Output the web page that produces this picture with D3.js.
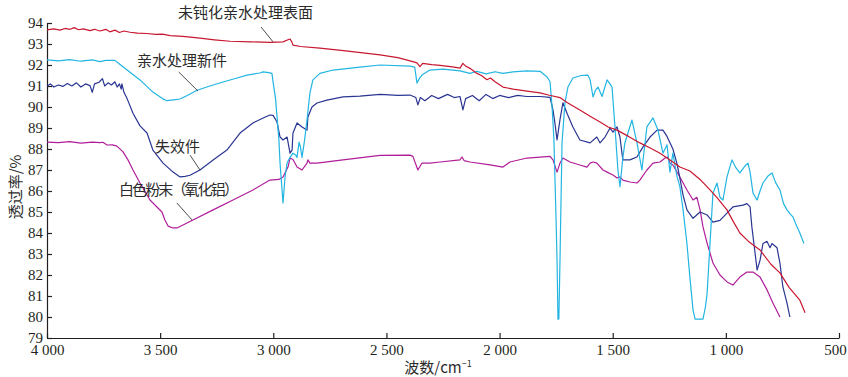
<!DOCTYPE html>
<html>
<head>
<meta charset="utf-8">
<script src="https://cdn.jsdelivr.net/npm/d3@7"></script>
<style>
  body { margin: 0; background: #fff; }
  svg { display: block; }
  .axis text { font-family: "Liberation Serif", "DejaVu Serif", serif; font-size: 15px; fill: #231f20; }
  .axis path, .axis line { stroke: #231f20; stroke-width: 1.2px; }
  .lbl { font-family: "Noto Sans CJK SC", sans-serif; font-size: 15px; fill: #2b2b2b; }
  path.spec { fill: none; stroke-width: 1.2px; stroke-linejoin: round; }
</style>
</head>
<body>
<svg width="848" height="377"></svg>
<script>
// wavenumber (cm-1), transmittance (%)
var untreatedSurface = [[4000,93.67],[3970,93.72],[3943,93.66],[3920,93.74],[3898,93.7],[3880,93.78],[3860,93.68],[3840,93.72],[3810,93.64],[3790,93.7],[3766,93.62],[3740,93.7],[3722,93.58],[3700,93.66],[3680,93.55],[3660,93.62],[3633,93.56],[3600,93.52],[3560,93.5],[3520,93.46],[3490,93.47],[3456,93.4],[3400,93.36],[3324,93.28],[3260,93.2],[3191,93.13],[3100,93.1],[3015,93.08],[2957,93.1],[2935,93.2],[2926,93.24],[2918,93.1],[2913,92.95],[2880,92.88],[2794,92.8],[2700,92.7],[2661,92.65],[2528,92.48],[2450,92.35],[2383,92.16],[2365,92.1],[2352,91.92],[2340,92.08],[2300,92.02],[2263,91.98],[2200,91.9],[2175,91.85],[2162,92.08],[2150,91.95],[2131,91.84],[2100,91.6],[2080,91.5],[2056,91.3],[2040,91.38],[2020,91.2],[1985,90.95],[1940,90.85],[1879,90.76],[1821,90.67],[1780,90.56],[1733,90.45],[1700,90.2],[1645,89.86],[1600,89.56],[1556,89.29],[1520,89.05],[1481,88.9],[1430,88.6],[1380,88.29],[1330,88.02],[1291,87.8],[1250,87.5],[1203,87.14],[1159,86.95],[1114,86.55],[1070,86.05],[1040,85.7],[995,85.1],[970,84.6],[938,84.0],[900,83.6],[849,83.19],[800,82.5],[761,82.1],[720,81.4],[673,80.8],[650,80.2]];

var newPart = [[4000,92.24],[3950,92.2],[3900,92.26],[3850,92.18],[3800,92.24],[3766,92.16],[3740,92.22],[3700,92.22],[3680,92.05],[3646,91.76],[3589,91.29],[3532,90.71],[3490,90.4],[3470,90.3],[3440,90.34],[3412,90.38],[3380,90.55],[3337,90.8],[3280,91.0],[3222,91.19],[3160,91.38],[3116,91.52],[3060,91.62],[3045,91.67],[3020,91.64],[3006,91.6],[3001,91.2],[2990,90.4],[2984,89.6],[2975,88.4],[2970,87.3],[2963,86.3],[2957,85.43],[2952,86.1],[2948,86.67],[2939,87.33],[2926,87.6],[2913,87.8],[2900,87.7],[2895,87.6],[2886,88.33],[2880,88.1],[2873,87.6],[2862,88.4],[2851,89.38],[2838,90.67],[2825,91.29],[2794,91.6],[2736,91.76],[2617,91.9],[2528,92.0],[2396,91.95],[2375,91.9],[2365,91.14],[2352,91.4],[2343,91.52],[2308,91.76],[2250,91.8],[2175,91.72],[2131,91.6],[2100,91.7],[2060,91.58],[2020,91.68],[1985,91.6],[1941,91.67],[1880,91.72],[1821,91.7],[1790,91.43],[1777,91.2],[1768,90.0],[1760,88.5],[1750,84.5],[1746,82.7],[1742,79.9],[1738,79.9],[1733,82.7],[1724,88.3],[1711,90.2],[1698,90.95],[1676,91.38],[1640,91.5],[1610,91.52],[1600,91.3],[1587,90.48],[1576,90.8],[1565,90.95],[1547,90.5],[1525,91.29],[1512,91.1],[1503,90.95],[1490,89.05],[1477,87.0],[1468,86.2],[1455,87.6],[1446,88.3],[1415,89.38],[1393,88.3],[1371,87.0],[1349,89.05],[1322,89.48],[1300,88.9],[1278,87.8],[1260,88.2],[1247,86.9],[1234,87.8],[1216,86.7],[1203,86.2],[1189,85.1],[1172,83.5],[1159,81.9],[1145,80.33],[1136,79.9],[1101,79.9],[1090,80.5],[1083,81.1],[1070,83.5],[1057,85.9],[1039,86.38],[1026,85.7],[1013,85.57],[995,86.67],[973,87.48],[955,87.1],[938,86.86],[915,87.2],[902,87.33],[893,86.9],[880,85.9],[862,85.57],[849,86.0],[836,86.38],[815,86.7],[796,86.86],[780,86.4],[761,86.05],[745,85.4],[730,85.1],[715,84.9],[703,84.76],[690,84.4],[673,84.0],[655,83.5]];

var failedPart = [[4000,91.0],[3985,91.1],[3970,90.95],[3950,91.05],[3930,90.98],[3910,91.12],[3890,91.0],[3870,91.15],[3850,90.95],[3830,91.1],[3810,91.02],[3800,90.7],[3790,91.1],[3770,91.18],[3755,91.35],[3745,91.0],[3730,91.15],[3715,91.05],[3700,91.2],[3690,90.95],[3680,91.1],[3672,90.85],[3669,91.1],[3660,90.7],[3646,90.4],[3620,89.7],[3589,89.1],[3558,88.76],[3532,87.95],[3487,87.33],[3443,86.9],[3412,86.67],[3390,86.7],[3368,86.75],[3324,87.0],[3266,87.48],[3205,87.95],[3147,88.76],[3090,89.24],[3040,89.5],[3015,89.62],[3001,89.6],[2984,89.3],[2970,88.57],[2957,88.43],[2948,88.5],[2939,88.57],[2926,87.8],[2917,87.95],[2913,88.76],[2895,89.24],[2873,89.05],[2851,88.9],[2847,89.52],[2829,90.0],[2807,90.19],[2763,90.33],[2692,90.48],[2617,90.52],[2528,90.6],[2450,90.55],[2396,90.57],[2370,90.45],[2361,90.1],[2350,90.45],[2330,90.3],[2300,90.55],[2270,90.4],[2230,90.6],[2200,90.45],[2175,90.5],[2162,89.86],[2150,90.4],[2120,90.55],[2090,90.3],[2060,90.6],[2030,90.4],[2000,90.55],[1960,90.45],[1920,90.55],[1880,90.5],[1821,90.5],[1777,90.46],[1764,89.86],[1755,89.2],[1746,88.43],[1733,89.4],[1720,90.2],[1702,89.7],[1676,89.05],[1645,88.43],[1600,88.29],[1570,88.57],[1556,88.29],[1534,88.57],[1512,89.0],[1499,88.8],[1481,89.05],[1468,88.57],[1459,87.8],[1455,87.48],[1424,87.48],[1393,87.62],[1366,88.1],[1335,88.57],[1304,88.9],[1278,88.9],[1260,88.6],[1234,88.0],[1216,87.3],[1203,86.6],[1189,85.8],[1172,85.1],[1145,84.7],[1114,85.0],[1083,84.86],[1057,84.52],[1026,84.6],[995,84.95],[969,85.24],[924,85.33],[907,85.4],[893,85.24],[885,84.29],[871,83.05],[862,82.24],[849,82.7],[836,83.5],[818,83.6],[805,83.3],[796,83.5],[774,83.3],[761,82.57],[748,81.43],[730,80.67],[717,80.0]];

var whitePowder = [[4000,88.33],[3950,88.3],[3900,88.35],[3850,88.28],[3800,88.33],[3766,88.3],[3753,88.32],[3735,88.19],[3710,88.2],[3691,88.14],[3664,87.86],[3642,87.48],[3620,87.0],[3589,86.38],[3545,85.57],[3514,85.24],[3492,85.0],[3479,84.62],[3465,84.33],[3443,84.24],[3426,84.24],[3399,84.38],[3355,84.62],[3266,85.1],[3178,85.57],[3090,86.05],[3015,86.52],[2975,86.55],[2957,86.67],[2935,87.14],[2926,87.57],[2913,87.5],[2895,87.14],[2873,87.0],[2851,87.33],[2847,87.48],[2838,87.33],[2807,87.33],[2692,87.48],[2528,87.7],[2396,87.71],[2383,87.65],[2361,87.0],[2343,87.33],[2308,87.33],[2263,87.38],[2175,87.48],[2166,87.62],[2157,87.45],[2131,87.38],[2042,87.24],[1985,87.14],[1954,87.38],[1879,87.57],[1777,87.65],[1764,87.48],[1746,86.9],[1733,87.33],[1720,87.57],[1689,87.38],[1645,87.24],[1614,87.14],[1600,87.33],[1587,87.38],[1570,87.33],[1543,87.0],[1525,86.9],[1499,86.76],[1481,86.62],[1468,86.67],[1455,86.52],[1424,86.43],[1393,86.38],[1380,86.52],[1349,87.0],[1322,87.33],[1291,87.38],[1269,87.57],[1256,87.62],[1247,87.33],[1234,87.24],[1203,86.67],[1172,86.05],[1145,85.57],[1128,85.7],[1114,85.1],[1101,84.29],[1083,83.52],[1057,82.57],[1026,82.0],[995,81.67],[969,81.52],[938,81.9],[907,82.14],[880,82.14],[849,81.9],[818,81.29],[792,80.67],[761,80.0]];

var xTicks = [4000, 3500, 3000, 2500, 2000, 1500, 1000, 500];
var yTicks = [79, 80, 81, 82, 83, 84, 85, 86, 87, 88, 89, 90, 91, 92, 93, 94];

var seriesNames = ["未钝化亲水处理表面", "亲水处理新件", "失效件", "白色粉末（氧化铝）"];
var seriesColors = ["#c8172f", "#22b5e2", "#2a3592", "#b01d9a"];
var seriesData = [untreatedSurface, newPart, failedPart, whitePowder];

var svg = d3.select("svg");
var x = d3.scaleLinear().domain([4000, 500]).range([47, 839]);
var y = d3.scaleLinear().domain([79, 94]).range([338, 23]);

var fmt = function (d) { return d >= 1000 ? d3.format(",")(d).replace(",", " ") : String(d); };

var xAxis = svg.append("g")
    .attr("class", "axis")
    .attr("transform", "translate(0,338)")
    .call(d3.axisBottom(x).tickValues(xTicks).tickFormat(fmt)
        .tickSizeInner(-5).tickSizeOuter(0).tickPadding(6));

// last label sits a bit left of its tick so it stays inside the frame
xAxis.selectAll(".tick text").filter(function (d) { return d === 500; }).attr("dx", "-4");

svg.append("g")
    .attr("class", "axis")
    .attr("transform", "translate(47,0)")
    .call(d3.axisLeft(y).tickValues(yTicks)
        .tickSizeInner(-5).tickSizeOuter(0).tickPadding(4));

var line = d3.line()
    .x(function (d) { return x(d[0]); })
    .y(function (d) { return y(d[1]); });

// draw back to front like the original
[3, 2, 1, 0].forEach(function (i) {
    svg.append("path")
        .datum(seriesData[i])
        .attr("class", "spec")
        .attr("stroke", seriesColors[i])
        .attr("d", line);
});

// curve labels with leader lines (positions in data units)
var labels = [
    { text: seriesNames[0], tx: 3421, ty: 94.48, lx1: 3054, ly1: 93.81, lx2: 3001, ly2: 93.1 },
    { text: seriesNames[1], tx: 3602, ty: 92.19, lx1: 3418, ly1: 91.67, lx2: 3333, ly2: 90.76 },
    { text: seriesNames[2], tx: 3523, ty: 88.1, lx1: 3368, ly1: 87.71, lx2: 3324, ly2: 87.0 },
    { text: seriesNames[3], tx: 3682, ty: 86.05, lx1: 3426, ly1: 85.43, lx2: 3359, ly2: 84.62, len: 120 }
];

labels.forEach(function (l) {
    var t = svg.append("text")
        .attr("class", "lbl")
        .attr("x", x(l.tx))
        .attr("y", y(l.ty))
        .attr("dy", "0.35em")
        .text(l.text);
    if (l.len) t.attr("textLength", l.len).attr("lengthAdjust", "spacing");
    svg.append("line")
        .attr("x1", x(l.lx1)).attr("y1", y(l.ly1))
        .attr("x2", x(l.lx2)).attr("y2", y(l.ly2))
        .attr("stroke", "#231f20")
        .attr("stroke-width", 0.8);
});

svg.append("text")
    .attr("class", "lbl")
    .attr("x", 438).attr("y", 373)
    .attr("text-anchor", "middle")
    .html('波数/cm<tspan dy="-6" font-size="9">−1</tspan>');

svg.append("text")
    .attr("class", "lbl")
    .attr("transform", "translate(21,187) rotate(-90)")
    .attr("text-anchor", "middle")
    .text("透过率/%");
</script>
</body>
</html>
